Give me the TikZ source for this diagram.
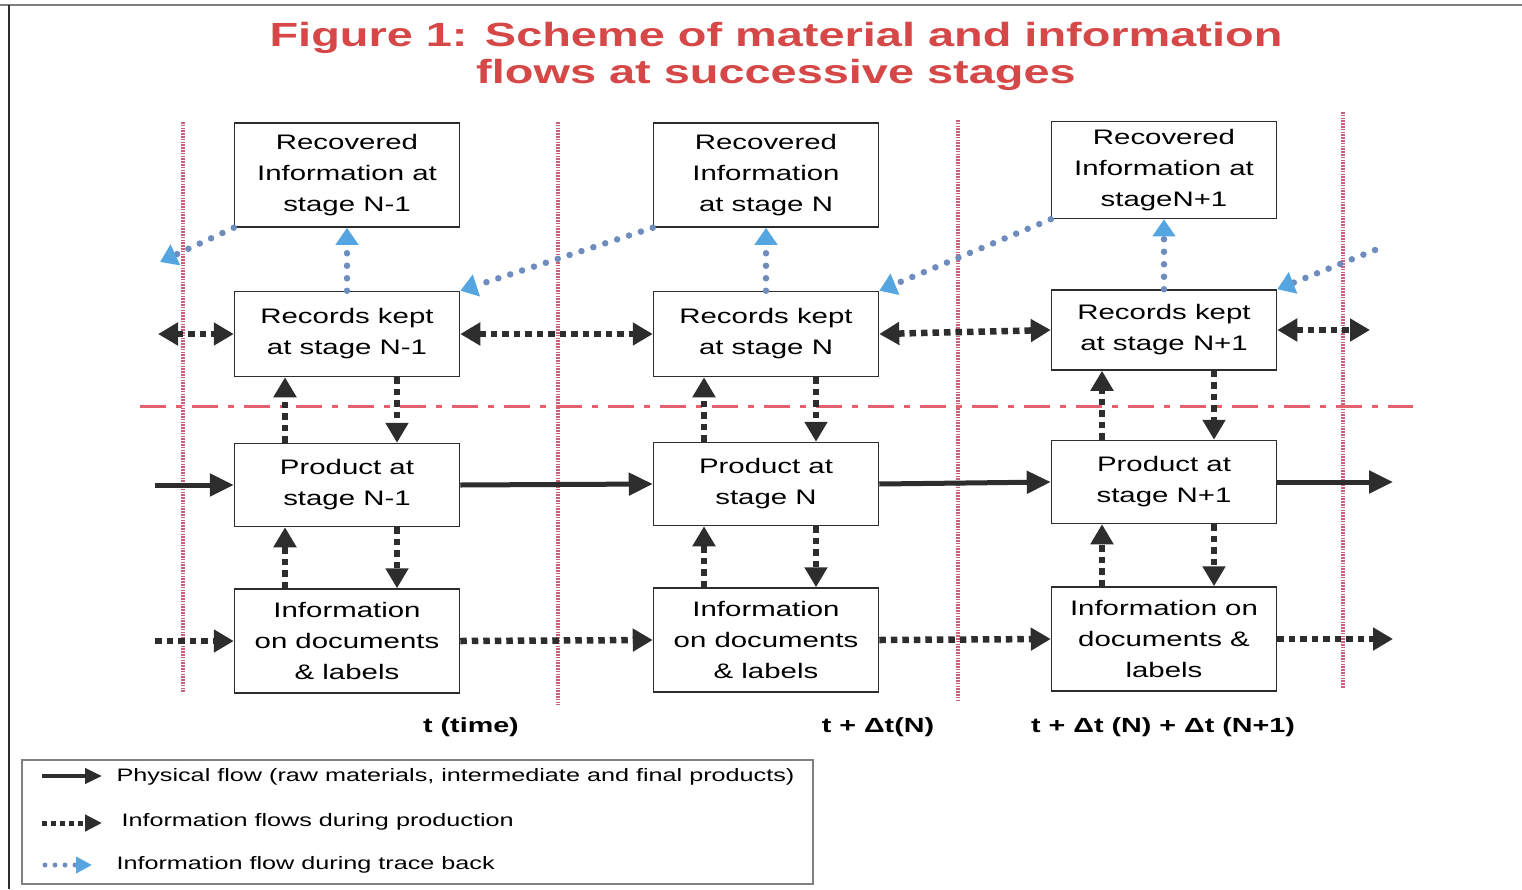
\documentclass[tikz,border=0pt]{standalone}
\usepackage{fontspec}
\setmainfont{Liberation Sans}[FakeStretch=1.4]
\usetikzlibrary{arrows.meta, calc}
\definecolor{titlered}{RGB}{214,72,72}
\definecolor{sepred}{RGB}{205,95,120}
\definecolor{linered}{RGB}{228,98,110}
\definecolor{flowgray}{RGB}{45,45,45}
\definecolor{tracedot}{RGB}{110,140,190}
\definecolor{tracehead}{RGB}{85,165,225}

\begin{document}
\begin{tikzpicture}[x=1pt, y=-1pt,
    box/.style={draw=flowgray, line width=1.5pt, fill=white, minimum width=225pt,
        align=center, inner sep=0pt, font=\fontsize{21}{31}\selectfont},
    physflow/.style={draw=flowgray, line width=5pt, -{Triangle[length=24pt,width=22pt]}},
    infoflow/.style={draw=flowgray, line width=6.5pt, dash pattern=on 6.5pt off 5pt,
        >={Triangle[length=20pt,width=22pt]}, ->},
    infoboth/.style={infoflow, <->},
    traceflow/.style={draw=tracedot, line width=6.5pt, line cap=round, dash pattern=on 0pt off 12.5pt,
        -{Triangle[length=17pt,width=22pt,color=tracehead,line cap=butt]}},
    stagesep/.style={draw=sepred, line width=3.2pt, dash pattern=on 1.6pt off 1.2pt},
    timeline/.style={draw=linered, line width=3pt, dash pattern=on 26pt off 10pt on 6pt off 10pt},
    legtext/.style={anchor=west, font=\fontsize{18}{22}\selectfont}
]
    \useasboundingbox (0,0) rectangle (1522,889);

    % frame and title
    \draw[gray, line width=2pt] (0,5) -- (1522,5);
    \draw[flowgray, line width=2pt] (9,5) -- (9,889);
    \node[text=titlered, align=center, font=\fontsize{33.5}{37}\selectfont\bfseries] (title) at (776,56)
        {Figure 1: Scheme of material and information\\flows at successive stages};

    % stage separators
    \foreach \x/\a/\b in {183/122/692, 558/122/705, 958/120/700, 1343/112/688}
        \draw[stagesep] (\x,\a) -- (\x,\b);
    \draw[timeline] (140,406) -- (1413,406);

    % boxes
    \node[box, minimum height=104pt] (rec1) at (347,175) {Recovered\\Information at\\stage N-1};
    \node[box, minimum height=104pt] (rec2) at (766,175) {Recovered\\Information\\at stage N};
    \node[box, minimum height=97pt]  (rec3) at (1164,170) {Recovered\\Information at\\stageN+1};
    \node[box, minimum height=85pt] (kept1) at (347,334) {Records kept\\at stage N-1};
    \node[box, minimum height=85pt] (kept2) at (766,334) {Records kept\\at stage N};
    \node[box, minimum height=80pt] (kept3) at (1164,330) {Records kept\\at stage N+1};
    \node[box, minimum height=83pt] (prod1) at (347,485) {Product at\\stage N-1};
    \node[box, minimum height=83pt] (prod2) at (766,484) {Product at\\stage N};
    \node[box, minimum height=83pt] (prod3) at (1164,482) {Product at\\stage N+1};
    \node[box, minimum height=104pt] (info1) at (347,641) {Information\\on documents\\\& labels};
    \node[box, minimum height=104pt] (info2) at (766,640) {Information\\on documents\\\& labels};
    \node[box, minimum height=104pt] (info3) at (1164,639) {Information on\\documents \&\\labels};

    % free ends
    \coordinate (physin) at (155,485);
    \coordinate (physout) at (1393,482);
    \coordinate (keptin) at (158,334);
    \coordinate (keptout) at (1370,330);
    \coordinate (infoin) at (155,641);
    \coordinate (infoout) at (1393,639);
    \coordinate (tbout) at (160,262);
    \coordinate (tbin) at (1375,250);

    % physical flow
    \draw[physflow] (physin) -- (prod1.west);
    \draw[physflow] (prod1.east) -- (prod2.west);
    \draw[physflow] (prod2.east) -- (prod3.west);
    \draw[physflow] (prod3.east) -- (physout);

    % information flows during production
    \draw[infoboth] (keptin) -- (kept1.west);
    \draw[infoboth] (kept1.east) -- (kept2.west);
    \draw[infoboth] (kept2.east) -- (kept3.west);
    \draw[infoboth] (kept3.east) -- (keptout);
    \draw[infoflow] (infoin) -- (info1.west);
    \draw[infoflow] (info1.east) -- (info2.west);
    \draw[infoflow] (info2.east) -- (info3.west);
    \draw[infoflow] (info3.east) -- (infoout);
    \foreach \c in {1,2,3} {
        \draw[infoflow] ([xshift=-62pt]prod\c.north) -- ([xshift=-62pt]kept\c.south);
        \draw[infoflow] ([xshift=50pt]kept\c.south) -- ([xshift=50pt]prod\c.north);
        \draw[infoflow] ([xshift=-62pt]info\c.north) -- ([xshift=-62pt]prod\c.south);
        \draw[infoflow] ([xshift=50pt]prod\c.south) -- ([xshift=50pt]info\c.north);
        \draw[traceflow] (kept\c.north) -- (rec\c.south);
    }

    % trace back
    \draw[traceflow] (rec1.south west) -- (tbout);
    \draw[traceflow] (rec2.south west) -- (kept1.north east);
    \draw[traceflow] (rec3.south west) -- (kept2.north east);
    \draw[traceflow] (tbin) -- (kept3.north east);

    % time marks
    \node[font=\fontsize{20.5}{24}\selectfont\bfseries] (t0) at (471,727) {t (time)};
    \node[font=\fontsize{20.5}{24}\selectfont\bfseries] (t1) at (878,727) {t + Δt(N)};
    \node[font=\fontsize{20.5}{24}\selectfont\bfseries] (t2) at (1163,727) {t + Δt (N) + Δt (N+1)};

    % legend
    \draw[gray, line width=1.2pt] (22,760) rectangle (813,884);
    \coordinate (leg1a) at (42,776);  \coordinate (leg1b) at (102,776);
    \coordinate (leg2a) at (42,823);  \coordinate (leg2b) at (102,823);
    \coordinate (leg3a) at (45,865);  \coordinate (leg3b) at (92,865);
    \draw[physflow, line width=4pt, -{Triangle[length=17pt,width=15pt]}] (leg1a) -- (leg1b);
    \draw[infoflow, line width=5pt, dash pattern=on 5pt off 4pt,
        >={Triangle[length=17pt,width=16pt]}] (leg2a) -- (leg2b);
    \draw[traceflow, line width=5pt, dash pattern=on 0pt off 10pt,
        -{Triangle[length=16pt,width=16pt,color=tracehead]}] (leg3a) -- (leg3b);
    \node[legtext] (leg1) at (113,777) {Physical flow (raw materials, intermediate and final products)};
    \node[legtext] (leg2) at (118,822) {Information flows during production};
    \node[legtext] (leg3) at (113,865) {Information flow during trace back};
\end{tikzpicture}
\end{document}
